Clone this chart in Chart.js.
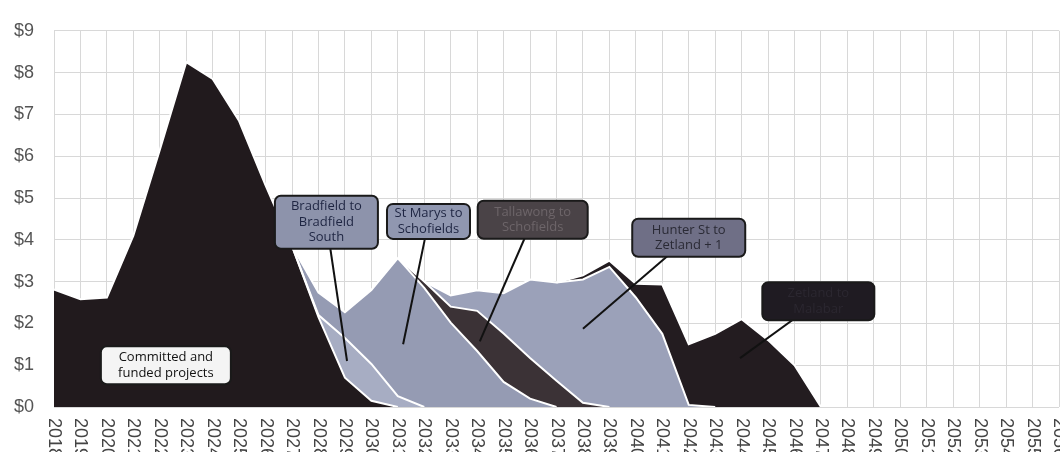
<!DOCTYPE html>
<html>
<head>
<meta charset="utf-8">
<title>Project pipeline spend</title>
<script src="https://cdn.jsdelivr.net/npm/chart.js@4"></script>
<style>
  html, body { margin: 0; padding: 0; background: #ffffff; overflow: hidden; }
  #wrap { width: 1060px; height: 452px; }
</style>
</head>
<body>
<div id="wrap"><canvas id="pipeline" width="1060" height="452"></canvas></div>
<script>
const years = ['2018', '2019', '2020', '2021', '2022', '2023', '2024', '2025', '2026', '2027',
  '2028', '2029', '2030', '2031', '2032', '2033', '2034', '2035', '2036', '2037',
  '2038', '2039', '2040', '2041', '2042', '2043', '2044', '2045', '2046', '2047',
  '2048', '2049', '2050', '2051', '2052', '2053', '2054', '2055', '2056'];

// annual spend, $bn, each project stacked on the ones before it
const committed = [2.81, 2.58, 2.62, 4.1, 6.15, 8.25, 7.85, 6.84, 5.3, 3.85,
  2.15, 0.7, 0.15, 0, 0, 0, 0, 0, 0, 0, 0, 0, 0, 0, 0, 0, 0, 0, 0, 0, 0, 0, 0, 0, 0, 0, 0, 0, 0];
const bradfield = [0, 0, 0, 0, 0, 0, 0, 0, 0, 0,
  0.05, 0.95, 0.88, 0.26, 0, 0, 0, 0, 0, 0, 0, 0, 0, 0, 0, 0, 0, 0, 0, 0, 0, 0, 0, 0, 0, 0, 0, 0, 0];
const stMarys = [0, 0, 0, 0, 0, 0, 0, 0, 0, 0,
  0.54, 0.62, 1.77, 3.3, 2.85, 2.02, 1.34, 0.6, 0.2, 0, 0, 0, 0, 0, 0, 0, 0, 0, 0, 0, 0, 0, 0, 0, 0, 0, 0, 0, 0];
const tallawong = [0, 0, 0, 0, 0, 0, 0, 0, 0, 0,
  0, 0, 0, 0, 0.15, 0.38, 0.96, 1.16, 0.97, 0.63, 0.1, 0, 0, 0, 0, 0, 0, 0, 0, 0, 0, 0, 0, 0, 0, 0, 0, 0, 0];
const hunterSt = [0, 0, 0, 0, 0, 0, 0, 0, 0, 0,
  0, 0, 0, 0, 0, 0.27, 0.49, 0.96, 1.88, 2.35, 2.95, 3.35, 2.62, 1.75, 0.05, 0, 0, 0, 0, 0, 0, 0, 0, 0, 0, 0, 0, 0, 0];
const zetland = [0, 0, 0, 0, 0, 0, 0, 0, 0, 0,
  0, 0, 0, 0, 0, 0, 0, 0, 0, 0, 0.1, 0.15, 0.33, 1.18, 1.45, 1.75, 2.1, 1.6, 1.0, 0, 0, 0, 0, 0, 0, 0, 0, 0, 0];

const yTickLabels = ['$0', '$1', '$2', '$3', '$4', '$5', '$6', '$7', '$8', '$9'];

const projects = [
  { name: 'Committed and funded projects', data: committed, colour: '#211a1d' },
  { name: 'Bradfield to Bradfield South', data: bradfield, colour: '#a7adc3' },
  { name: 'St Marys to Schofields', data: stMarys, colour: '#959bb3' },
  { name: 'Tallawong to Schofields', data: tallawong, colour: '#3b3236' },
  { name: 'Hunter St to Zetland + 1', data: hunterSt, colour: '#9ba1b9' },
  { name: 'Zetland to Malabar', data: zetland, colour: '#231c20' }
];

// call-out boxes: centre and pointer tip in data units (year index, $bn)
const callouts = [
  { lines: ['Committed and', 'funded projects'], at: [4.23, 1.0], size: [130, 38], fill: '#f4f4f4', ink: '#111111' },
  { lines: ['Bradfield to', 'Bradfield', 'South'], at: [10.3, 4.42], size: [103, 53], tip: [11.08, 1.1], fill: '#8d93ab', ink: '#1e2542' },
  { lines: ['St Marys to', 'Schofields'], at: [14.16, 4.44], size: [83, 35], tip: [13.2, 1.5], fill: '#9097b0', ink: '#1e2542' },
  { lines: ['Tallawong to', 'Schofields'], at: [18.1, 4.48], size: [110, 38], tip: [16.1, 1.57], fill: '#4a4347', ink: '#6d6569' },
  { lines: ['Hunter St to', 'Zetland + 1'], at: [24.0, 4.05], size: [113, 38], tip: [20.0, 1.87], fill: '#6f6f86', ink: '#2a2a35' },
  { lines: ['Zetland to', 'Malabar'], at: [28.9, 2.53], size: [112, 38], tip: [25.94, 1.17], fill: '#1f1b22', ink: '#2b2730' }
];

// white edge is skipped where a project has nothing to add
const hideFlat = c => (c.p0.parsed.y === 0 && c.p1.parsed.y === 0) ? 'rgba(0,0,0,0)' : '#ffffff';

// edges go first so they are painted over all of the filled bands
const edges = projects.map(p => ({
  label: p.name + ' edge',
  data: p.data,
  stack: 'edges',
  fill: false,
  borderColor: '#ffffff',
  borderWidth: 2,
  pointRadius: 0,
  tension: 0,
  segment: { borderColor: hideFlat }
}));
const bands = projects.map((p, i) => ({
  label: p.name,
  data: p.data,
  stack: 'bands',
  fill: i === 0 ? 'origin' : '-1',
  backgroundColor: p.colour,
  borderWidth: 0,
  pointRadius: 0,
  tension: 0
}));

const calloutPlugin = {
  id: 'callouts',
  afterDatasetsDraw(chart) {
    const { ctx, scales: { x, y } } = chart;
    ctx.save();
    callouts.forEach(c => {
      const cx = x.getPixelForValue(c.at[0]);
      const cy = y.getPixelForValue(c.at[1]);
      if (c.tip) {
        ctx.strokeStyle = '#111111';
        ctx.lineWidth = 2;
        ctx.beginPath();
        ctx.moveTo(cx, cy);
        ctx.lineTo(x.getPixelForValue(c.tip[0]), y.getPixelForValue(c.tip[1]));
        ctx.stroke();
      }
      const w = c.size[0], h = c.size[1];
      ctx.beginPath();
      ctx.roundRect(cx - w / 2, cy - h / 2, w, h, 6);
      ctx.fillStyle = c.fill;
      ctx.fill();
      ctx.strokeStyle = '#1a1a1a';
      ctx.lineWidth = 2;
      ctx.stroke();
      ctx.fillStyle = c.ink;
      ctx.font = '13px "Open Sans", sans-serif';
      ctx.textAlign = 'center';
      ctx.textBaseline = 'middle';
      const lh = 15.5;
      const top = cy - (c.lines.length - 1) * lh / 2;
      c.lines.forEach((t, i) => ctx.fillText(t, cx, top + i * lh));
    });
    ctx.restore();
  }
};

// year labels run downwards under each tick
const yearLabels = {
  id: 'yearLabels',
  afterDraw(chart) {
    const { ctx } = chart;
    const sx = chart.scales.x;
    ctx.save();
    ctx.font = '18px "Liberation Sans", Arial, sans-serif';
    ctx.fillStyle = '#444444';
    ctx.textAlign = 'left';
    ctx.textBaseline = 'middle';
    years.forEach((yr, i) => {
      ctx.save();
      ctx.translate(sx.getPixelForTick(i), sx.top + 11);
      ctx.rotate(Math.PI / 2);
      ctx.fillText(yr, 0, 0);
      ctx.restore();
    });
    ctx.restore();
  }
};

new Chart(document.getElementById('pipeline'), {
  type: 'line',
  data: {
    labels: years,
    datasets: edges.concat(bands)
  },
  options: {
    responsive: false,
    animation: false,
    devicePixelRatio: 1,
    layout: { padding: { top: 23, right: 1, left: 0, bottom: 0 } },
    plugins: {
      legend: { display: false },
      tooltip: { enabled: false }
    },
    scales: {
      x: {
        offset: false,
        grid: { color: '#d8d8d8', drawTicks: false },
        border: { display: false },
        ticks: { display: false },
        afterFit: s => { s.height = 45; }
      },
      y: {
        stacked: true,
        min: 0,
        max: 9,
        grid: { color: '#d8d8d8', drawTicks: false },
        border: { display: false },
        ticks: {
          stepSize: 1,
          padding: 20,
          color: '#555555',
          font: { family: '"Liberation Sans", Arial, sans-serif', size: 18 },
          callback: v => yTickLabels[v]
        },
        afterFit: s => { s.width = 54; }
      }
    }
  },
  plugins: [calloutPlugin, yearLabels]
});
</script>
</body>
</html>
